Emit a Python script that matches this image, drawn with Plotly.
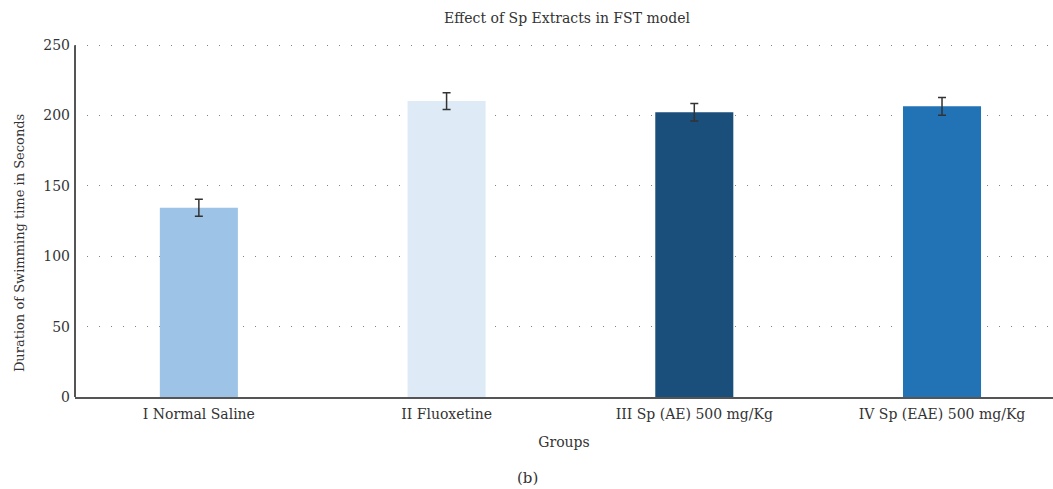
import plotly.graph_objects as go

groups = ["I Normal Saline", "II Fluoxetine", "III Sp (AE) 500 mg/Kg", "IV Sp (EAE) 500 mg/Kg"]
means = [134.5, 210.3, 202.3, 206.6]
errors = [6.0, 6.0, 6.2, 6.3]
colors = ["#9dc3e6", "#deebf7", "#1a4e7b", "#2173b5"]
y_ticks = [0, 50, 100, 150, 200, 250]

font_family = "DejaVu Serif, Liberation Serif, serif"
text_color = "#333333"

# pixel layout
W, H = 1053, 489
px_per_unit = (397 - 45) / 250
y_top = 253
L, R, B = 75, 0, 92
T = 45 - (y_top - 250) * px_per_unit
plot_h = H - T - B
plot_w = W - L - R

fig = go.Figure()
fig.add_trace(go.Bar(
    x=list(range(len(groups))),
    y=means,
    marker=dict(color=colors, line=dict(width=0)),
    width=0.315,
    error_y=dict(type="data", array=errors, visible=True, color="#333333", thickness=1.5, width=4),
    showlegend=False,
))

fig.update_layout(
    width=W, height=H,
    margin=dict(l=L, r=R, t=T, b=B),
    paper_bgcolor="white", plot_bgcolor="white",
    font=dict(family=font_family, color=text_color, size=14),
    title=dict(text="Effect of Sp Extracts in FST model", x=567 / W, xanchor="center",
               y=1 - 18 / H, yanchor="middle", font=dict(size=14, color=text_color)),
    xaxis=dict(
        range=[-0.5, 3.448],
        tickmode="array", tickvals=list(range(len(groups))), ticktext=groups,
        showgrid=False, zeroline=False,
        showline=True, linecolor="#555555", linewidth=2,
        ticks="", ticklen=0, ticklabelstandoff=3,
        title=dict(text="Groups", standoff=16, font=dict(size=14)),
        tickfont=dict(size=14),
    ),
    yaxis=dict(
        range=[0, y_top],
        tickmode="array", tickvals=y_ticks,
        showgrid=True, gridcolor="#808080", gridwidth=1, griddash="1px,11px",
        zeroline=False,
        showline=False,
        ticks="", ticklen=0, ticklabelstandoff=4,
        tickfont=dict(size=14),
    ),
    shapes=[dict(type="line", xref="paper", yref="y", x0=0, x1=0, y0=0, y1=250,
                 line=dict(color="#555555", width=2))],
    annotations=[
        dict(text="Duration of Swimming time in Seconds", textangle=-90,
             x=(19 - L) / plot_w, y=(H - B - 243) / plot_h,
             xref="paper", yref="paper", xanchor="center", yanchor="middle",
             showarrow=False, font=dict(size=13, color=text_color)),
        dict(text="(b)", x=(527 - L) / plot_w, y=-(478 - (H - B)) / plot_h,
             xref="paper", yref="paper", yanchor="middle",
             showarrow=False, font=dict(size=15, color=text_color)),
    ],
)

fig.write_html("out.html")
